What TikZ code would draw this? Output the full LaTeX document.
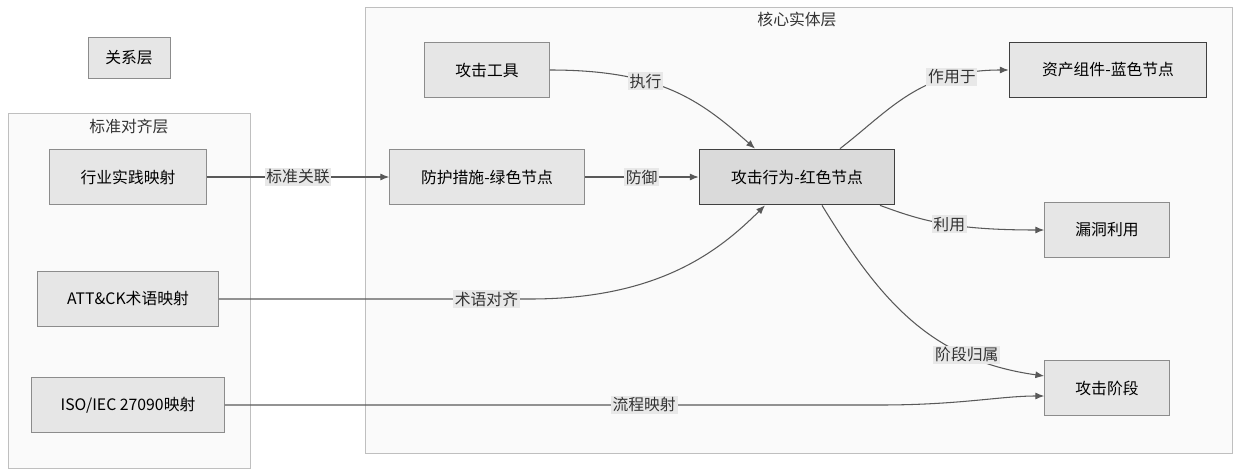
\documentclass[tikz,border=0pt]{standalone}
\usepackage{fontspec}
\setmainfont{Noto Sans CJK SC}
\usetikzlibrary{arrows.meta}

\definecolor{boxfill}{HTML}{E6E6E6}
\definecolor{actfill}{HTML}{DADADA}
\definecolor{layerfill}{HTML}{FAFAFA}
\definecolor{lblfill}{HTML}{E8E8E8}

\begin{document}
\begin{tikzpicture}[x=0.02cm,y=-0.02cm,
    font=\fontsize{9}{11}\selectfont,
    box/.style={draw=black!45,fill=boxfill,minimum height=1.1cm,inner sep=2pt},
    keybox/.style={box,draw=black!75,line width=1pt},
    layer/.style={draw=black!25,fill=layerfill},
    lbl/.style={fill=lblfill,inner sep=1pt,text=black!80},
    link/.style={draw=black!65,line width=0.6pt,-{Latex[length=5pt,width=4pt]}}]
    \useasboundingbox (0,0) rectangle (1237,470);

    % layers
    \draw[layer] (8,113) rectangle (250,468);
    \node[text=black!80] (stdtitle) at (129,127) {标准对齐层};
    \draw[layer] (365,7) rectangle (1232,453);
    \node[text=black!80] (coretitle) at (797,20) {核心实体层};

    \node[box,minimum width=1.64cm,minimum height=0.82cm] (rel) at (129,58) {关系层};

    % standard alignment layer
    \node[box,minimum width=3.14cm] (industry) at (128,177) {行业实践映射};
    \node[box,minimum width=3.62cm] (attck) at (128,299) {ATT\&CK术语映射};
    \node[box,minimum width=3.86cm] (iso) at (128,405) {ISO/IEC 27090映射};

    % core entity layer
    \node[box,minimum width=2.5cm] (tool) at (487,70) {攻击工具};
    \node[box,minimum width=3.9cm] (defense) at (487,177) {防护措施-绿色节点};
    \node[keybox,fill=actfill,minimum width=3.9cm] (act) at (797,177) {攻击行为-红色节点};
    \node[keybox,minimum width=3.94cm] (asset) at (1108,70) {资产组件-蓝色节点};
    \node[box,minimum width=2.5cm] (vuln) at (1107,230) {漏洞利用};
    \node[box,minimum width=2.5cm] (phase) at (1107,388) {攻击阶段};

    % links
    \draw[link] (industry) -- node[lbl]{标准关联} (defense);
    \draw[link] (defense) -- node[lbl]{防御} (act);
    \draw[link] (tool.east) .. controls (660,70) and (700,100) .. node[lbl,pos=0.36]{执行} ([xshift=-0.84cm]act.north);
    \draw[link] (attck.east) -- node[lbl,pos=0.86]{术语对齐} (530,299)
        .. controls (660,299) and (720,250) .. ([xshift=-0.64cm]act.south);
    \draw[link] (iso.east) -- node[lbl,pos=0.64]{流程映射} (880,405)
        .. controls (960,405) and (1000,396) .. ([yshift=-0.16cm]phase.west);
    \draw[link] ([xshift=0.86cm]act.north) .. controls (890,110) and (920,70) .. node[lbl,pos=0.75]{作用于} (asset.west);
    \draw[link] ([xshift=1.66cm]act.south) .. controls (920,220) and (950,230) .. node[lbl,pos=0.55]{利用} (vuln.west);
    \draw[link] ([xshift=0.5cm]act.south) .. controls (880,300) and (930,360) .. node[lbl,pos=0.74]{阶段归属} ([yshift=0.24cm]phase.west);
\end{tikzpicture}
\end{document}
